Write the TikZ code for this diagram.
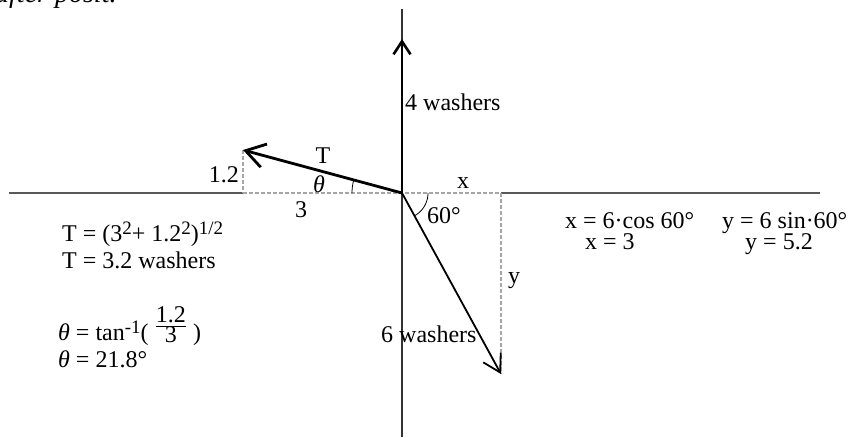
\documentclass[tikz,border=0pt]{standalone}
\usepackage{fontspec}
\setmainfont{Liberation Serif}
\usetikzlibrary{arrows.meta}
\newcommand{\upidx}[1]{\raisebox{7pt}{\fontsize{19}{20}\selectfont #1}}
\begin{document}
\begin{tikzpicture}[x=1pt,y=-1pt,
 axis/.style={draw=black!65, line width=1.1pt},
 guide/.style={draw=black!35, line width=1.4pt, dash pattern=on 4pt off 2pt},
 force/.style={draw=black, line width=2.6pt},
 lbl/.style={inner sep=0pt, font=\fontsize{24}{28}\selectfont},
]
\useasboundingbox (0,0) rectangle (850,437);
\clip (0,0) rectangle (850,437);
% key points
\coordinate (O) at (402,193);
\coordinate (Ttip) at (243,150);
\coordinate (Up) at (402,39);
\coordinate (Six) at (501,374);
\coordinate (Tfoot) at (243,193);
\coordinate (Xend) at (501,193);
\coordinate (AxL) at (9,193);
\coordinate (AxR) at (820,193);
\coordinate (AxT) at (402,9);
\coordinate (AxB) at (402,437);
% cut-off heading
\node[inner sep=0pt, anchor=base west, font=\fontsize{28}{32}\selectfont\itshape] (head) at (-5,2.5) {after posit.};
% axes
\draw[axis] (AxL) -- (Tfoot);
\draw[axis] (Xend) -- (AxR);
\draw[axis, draw=black!80] (AxT) -- (AxB);
% component guides
\draw[guide] (Tfoot) -- (O) -- (Xend);
\draw[guide] (Ttip) -- (Tfoot);
\draw[guide] (Xend) -- (Six);
% angle arcs
\draw[line width=0.8pt] plot[domain=0:15.1, samples=12] ({402-50*cos(\x)},{193-50*sin(\x)});
\draw[line width=0.8pt] plot[domain=0:61, samples=16] ({402+26*cos(\x)},{193+26*sin(\x)});
% forces
\draw[force, -{Straight Barb[length=13pt,width=17pt]}] (O) -- (Up);
\draw[force, line width=2.8pt, -{Straight Barb[length=19pt,width=24pt]}] (O) -- (Ttip);
\draw[force, line width=1.8pt, -{Straight Barb[length=17pt,width=20pt]}] (O) -- (Six);
% labels on the drawing
\node[lbl, anchor=base west] (l4) at (405,110) {4 washers};
\node[lbl, anchor=base] (lT) at (323,163) {T};
\node[lbl, anchor=base] (lth) at (319,192) {\textit{θ}};
\node[lbl, anchor=base east] (l12) at (239,182) {1.2};
\node[lbl, anchor=base] (l3) at (301,217) {3};
\node[lbl, anchor=base] (lx) at (463,188) {x};
\node[lbl, anchor=base west] (l60) at (427,223) {60°};
\node[lbl, anchor=base west] (ly) at (508,283) {y};
\node[lbl, anchor=base west] (l6) at (381,342) {6 washers};
% left equations
\node[lbl, anchor=base west] (e1) at (62,241) {T = (3\upidx{2}+ 1.2\upidx{2})\upidx{1/2}};
\node[lbl, anchor=base west] (e2) at (62,268) {T = 3.2 washers};
\node[lbl, anchor=base west] (e3) at (58,340) {\textit{θ} = tan\upidx{-1}( \raisebox{8pt}{$\frac{\mbox{1.2}}{\mbox{3}}$} )};
\node[lbl, anchor=base west] (e4) at (58,367) {\textit{θ} = 21.8°};
% right equations
\node[lbl, anchor=base west] (r1) at (565,228) {x = 6·cos 60°};
\node[lbl, anchor=base west] (r2) at (722,228) {y = 6 sin·60°};
\node[lbl, anchor=base west] (r3) at (585,249) {x = 3};
\node[lbl, anchor=base west] (r4) at (745,249) {y = 5.2};
\end{tikzpicture}
\end{document}
